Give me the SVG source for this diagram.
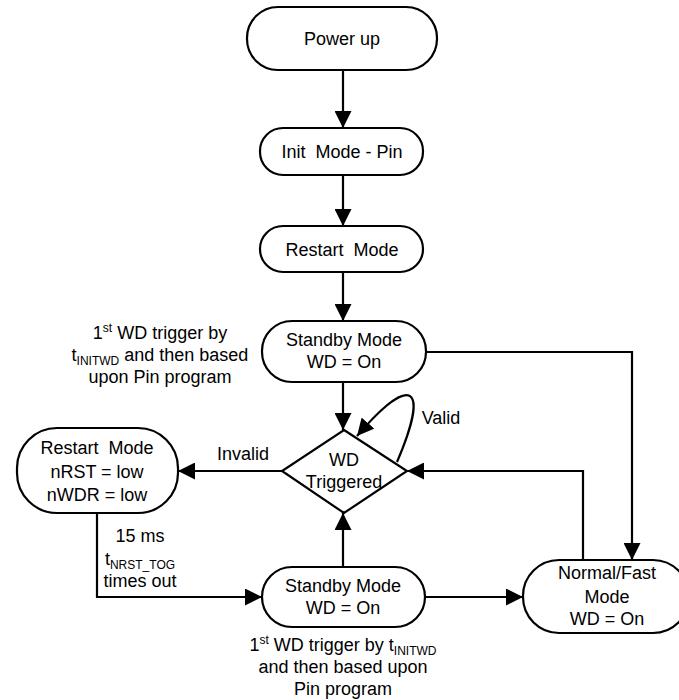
<svg xmlns="http://www.w3.org/2000/svg" width="679" height="700" viewBox="0 0 679 700">
<style>
.box{fill:#fff;stroke:#000;stroke-width:2.2}
.ln{fill:none;stroke:#000;stroke-width:2.2}
text{font-family:"Liberation Sans",Arial,sans-serif;font-size:18px;fill:#000;text-anchor:middle;white-space:pre}
.s{font-size:12px}
</style>
<defs>
<marker id="ah" markerUnits="userSpaceOnUse" markerWidth="17" markerHeight="17" refX="16" refY="8" orient="auto" viewBox="0 0 16 16">
<path d="M0,0 L16,8 L0,16 z" fill="#000"/>
</marker>
</defs>
<rect width="679" height="700" fill="#fff"/>
<g id="connectors">
<line class="ln" x1="343" y1="70" x2="343" y2="128" marker-end="url(#ah)"/>
<line class="ln" x1="343" y1="175" x2="343" y2="226" marker-end="url(#ah)"/>
<line class="ln" x1="343" y1="272" x2="343" y2="321" marker-end="url(#ah)"/>
<line class="ln" x1="343" y1="382" x2="343" y2="430" marker-end="url(#ah)"/>
<line class="ln" x1="282" y1="471" x2="178" y2="471" marker-end="url(#ah)"/>
<polyline class="ln" points="97,513 97,597 262,597" marker-end="url(#ah)"/>
<line class="ln" x1="343" y1="567" x2="343" y2="513" marker-end="url(#ah)"/>
<line class="ln" x1="425" y1="597" x2="523" y2="597" marker-end="url(#ah)"/>
<polyline class="ln" points="426,352 632,352 632,560" marker-end="url(#ah)"/>
<polyline class="ln" points="583,560 583,471 407,471" marker-end="url(#ah)"/>
<path class="ln" d="M397,462 C430,385 412,372 357,436" marker-end="url(#ah)"/>
<text x="441" y="424">Valid</text>
<text x="243" y="460">Invalid</text>
<text x="140" y="542">15 ms</text>
<text x="140" y="565">t<tspan class="s" dy="4">NRST_TOG</tspan></text>
<text x="140" y="587">times out</text>
</g>
<g id="power-up">
<rect class="box" x="247" y="7" width="190" height="63" rx="31" ry="31"/>
<text x="342" y="45">Power up</text>
</g>
<g id="init-mode">
<rect class="box" x="260" y="128" width="163" height="47" rx="23" ry="23"/>
<text x="342" y="158">Init  Mode - Pin</text>
</g>
<g id="restart-mode">
<rect class="box" x="260" y="226" width="163" height="46" rx="23" ry="23"/>
<text x="342" y="256">Restart  Mode</text>
</g>
<g id="standby-top">
<rect class="box" x="262" y="321" width="164" height="61" rx="30" ry="30"/>
<text x="344" y="346">Standby Mode</text>
<text x="344" y="368">WD = On</text>
</g>
<g id="note-top">
<text x="160" y="339">1<tspan class="s" dy="-7">st</tspan><tspan dy="7"> WD trigger by</tspan></text>
<text x="160" y="361">t<tspan class="s" dy="4">INITWD</tspan><tspan dy="-4"> and then based</tspan></text>
<text x="160" y="383">upon Pin program</text>
</g>
<g id="wd-triggered">
<polygon class="box" points="344,430 407,471 344,513 282,471"/>
<text x="344" y="466">WD</text>
<text x="344" y="488">Triggered</text>
</g>
<g id="restart-low">
<rect class="box" x="17" y="428" width="161" height="85" rx="40" ry="40"/>
<text x="97" y="454">Restart  Mode</text>
<text x="97" y="478">nRST = low</text>
<text x="97" y="501">nWDR = low</text>
</g>
<g id="standby-bottom">
<rect class="box" x="262" y="567" width="163" height="60" rx="30" ry="30"/>
<text x="343" y="592">Standby Mode</text>
<text x="343" y="614">WD = On</text>
</g>
<g id="note-bottom">
<text x="343" y="651">1<tspan class="s" dy="-7">st</tspan><tspan dy="7"> WD trigger by t</tspan><tspan class="s" dy="4">INITWD</tspan></text>
<text x="343" y="673">and then based upon</text>
<text x="343" y="695">Pin program</text>
</g>
<g id="normal-fast">
<rect class="box" x="523" y="560" width="166" height="73" rx="36" ry="36"/>
<text x="607" y="579">Normal/Fast</text>
<text x="607" y="603">Mode</text>
<text x="607" y="625">WD = On</text>
</g>
</svg>
